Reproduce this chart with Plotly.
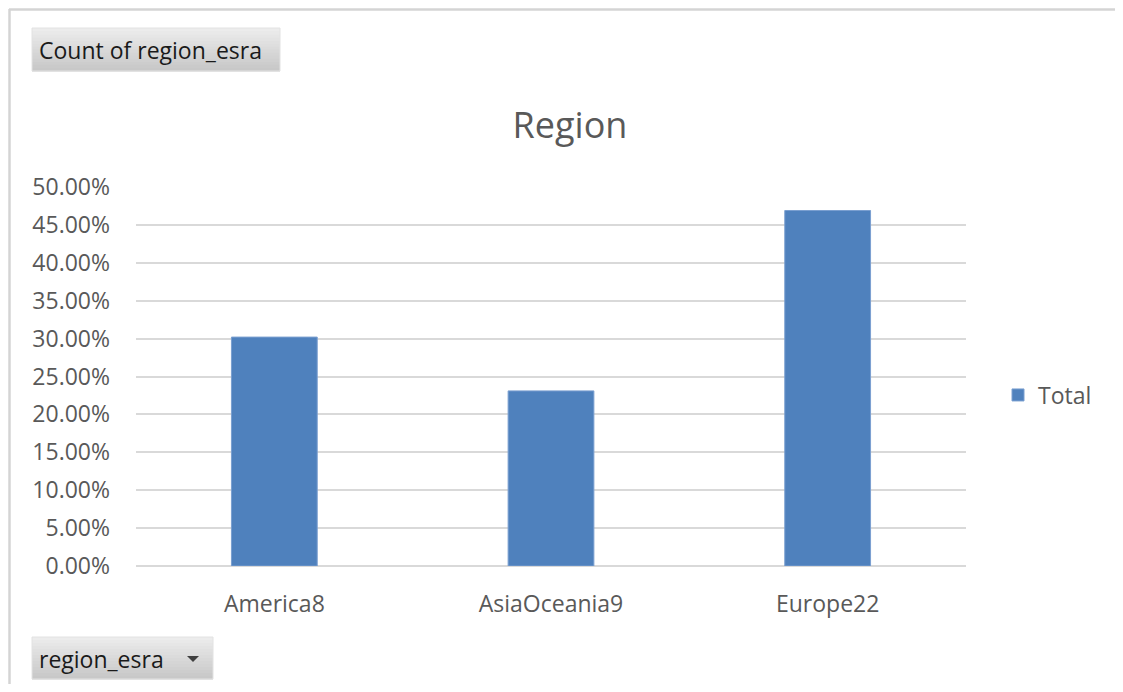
import plotly.graph_objects as go

# ---- data ----
categories = ["America8", "AsiaOceania9", "Europe22"]
series_name = "Total"
values = [0.302, 0.231, 0.469]
y_tick_values = [0.0, 0.05, 0.10, 0.15, 0.20, 0.25, 0.30, 0.35, 0.40, 0.45, 0.50]

title_text = "Region"
field_button_text = "Count of region_esra"
axis_button_text = "region_esra"

# ---- layout geometry (pixels, in screenshot coordinates) ----
OFF = 8  # page body margin offset
W, H = 1123 - 2 * OFF, 692 - 2 * OFF  # figure size that fits the window without scrolling
L0, R0, T0, B0 = 136, 966, 187, 566  # plot area edges as seen in the screenshot
L, R, T, B = L0 - OFF, R0 - OFF, T0 - OFF, B0 - OFF

FONT = "Open Sans"
GREY = "#595959"
GRID = "#d9d9d9"
BAR = "#4f81bd"


def px(xp):
    return (xp - L0) / (R0 - L0)


def py(yp):
    return (B0 - yp) / (B0 - T0)


fig = go.Figure()
fig.add_trace(go.Bar(
    x=categories, y=values, name=series_name,
    marker=dict(color=BAR, line=dict(color="#7a9fd0", width=1)),
    width=0.31, showlegend=True,
))

shapes = []
# outer frame lines (top and left)
shapes.append(dict(type="line", xref="paper", yref="paper",
                   x0=px(9), x1=px(1200), y0=py(9.5), y1=py(9.5),
                   line=dict(color="#d4d4d4", width=2.5)))
shapes.append(dict(type="line", xref="paper", yref="paper",
                   x0=px(9.5), x1=px(9.5), y0=py(9), y1=py(800),
                   line=dict(color="#d4d4d4", width=2.5)))


def button(x0, y0, x1, y1):
    n = 14
    top = (236, 236, 236)
    bot = (200, 200, 200)
    hh = (y1 - y0) / n
    for i in range(n):
        t = i / (n - 1)
        c = tuple(int(top[k] + (bot[k] - top[k]) * t) for k in range(3))
        shapes.append(dict(type="rect", xref="paper", yref="paper",
                           x0=px(x0), x1=px(x1),
                           y0=py(y0 + i * hh), y1=py(y0 + (i + 1) * hh + 0.5),
                           fillcolor="rgb(%d,%d,%d)" % c, line=dict(width=0),
                           layer="below"))
    shapes.append(dict(type="rect", xref="paper", yref="paper",
                       x0=px(x0), x1=px(x1), y0=py(y0), y1=py(y1),
                       fillcolor="rgba(0,0,0,0)",
                       line=dict(color="#e2e2e2", width=1), layer="below"))


button(32, 28, 280, 71)
button(32, 637, 213, 679)

# dropdown triangle
tx, ty = 193, 658
shapes.append(dict(type="path", xref="paper", yref="paper",
                   path="M %f %f L %f %f L %f %f Z" % (
                       px(tx - 6), py(ty - 2), px(tx + 6), py(ty - 2), px(tx), py(ty + 4)),
                   fillcolor="#404040", line=dict(width=0)))

annotations = [
    dict(text=field_button_text, xref="paper", yref="paper",
         x=px(37), y=py(50), xanchor="left", yanchor="middle", showarrow=False,
         font=dict(family=FONT, size=23, color="#1a1a1a")),
    dict(text=axis_button_text, xref="paper", yref="paper",
         x=px(37), y=py(659), xanchor="left", yanchor="middle", showarrow=False,
         font=dict(family=FONT, size=23, color="#1a1a1a")),
]

fig.update_layout(
    width=W, height=H,
    margin=dict(l=L, r=W - R, t=T, b=H - B, pad=0),
    paper_bgcolor="white", plot_bgcolor="white",
    title=dict(text=title_text, x=(570 - OFF) / W, y=1 - (125 - OFF) / H,
               xanchor="center", yanchor="middle",
               xref="container", yref="container",
               font=dict(family=FONT, size=36, color=GREY)),
    font=dict(family=FONT, color=GREY),
    showlegend=True,
    legend=dict(x=px(998), y=py(395), xanchor="left", yanchor="middle",
                font=dict(family=FONT, size=23, color=GREY),
                bgcolor="rgba(0,0,0,0)"),
    bargap=0.69,
    shapes=shapes,
    annotations=annotations,
)

fig.update_xaxes(
    range=[-0.5, 2.5], showgrid=False, showline=False, zeroline=False,
    ticks="", tickfont=dict(family=FONT, size=23, color=GREY),
    ticklabelstandoff=22, fixedrange=True,
)
fig.update_yaxes(
    range=[0, 0.5], tickvals=y_tick_values, tickformat=".2%",
    showgrid=True, gridcolor=GRID, gridwidth=1.5,
    zeroline=True, zerolinecolor=GRID, zerolinewidth=1.5,
    showline=False, ticks="",
    tickfont=dict(family=FONT, size=23, color=GREY),
    ticklabelstandoff=25, fixedrange=True,
)

fig.write_html("out.html")
